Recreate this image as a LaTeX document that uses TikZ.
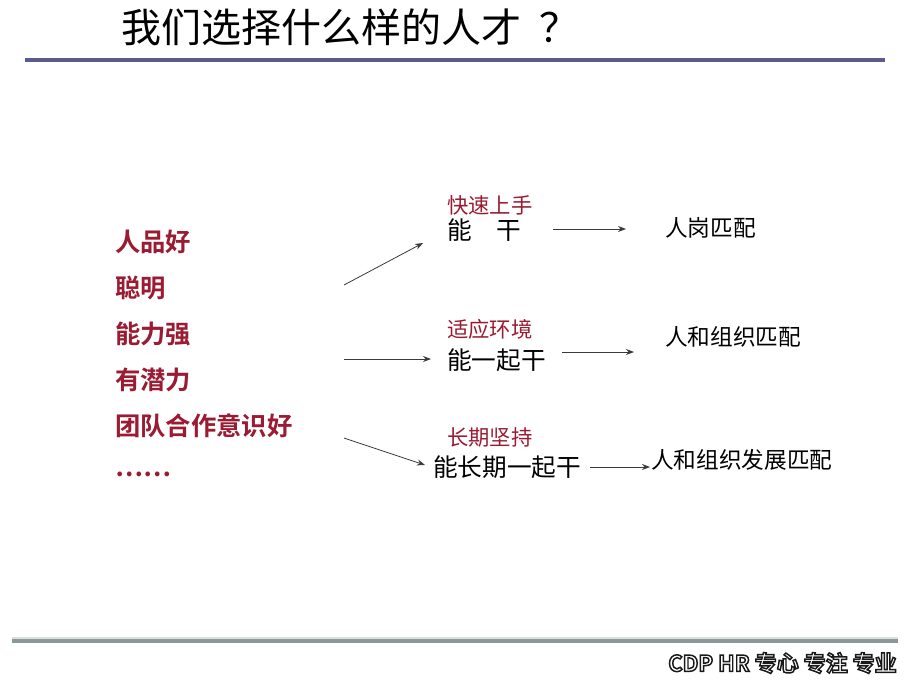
\documentclass[tikz,border=0pt]{standalone}
\usepackage{fontspec}
\setmainfont{Noto Sans CJK SC}
\newfontfamily\cjk{Noto Sans CJK SC}
\newfontfamily\cjkb{Noto Sans CJK SC Bold}
\usetikzlibrary{arrows.meta}
\definecolor{redtxt}{HTML}{9A1B32}
\definecolor{topline}{HTML}{5B5B8E}
\definecolor{botline}{HTML}{8A9898}
\definecolor{arrowc}{HTML}{3A3A3A}
\tikzset{
  lefttxt/.style={anchor=west, inner sep=0pt, text=redtxt, font=\cjkb\fontsize{19}{21}\selectfont},
  redsmall/.style={anchor=west, inner sep=0pt, text=redtxt, font=\cjk\fontsize{16}{18}\selectfont},
  blacktxt/.style={anchor=west, inner sep=0pt, text=black, font=\cjk\fontsize{18.5}{20}\selectfont},
  righttxt/.style={anchor=west, inner sep=0pt, text=black, font=\cjk\fontsize{17}{19}\selectfont},
  foot/.style={anchor=east, inner sep=0pt, font=\cjkb\fontsize{16.5}{18}\selectfont},
  arr/.style={draw=arrowc, line width=0.6pt, -{Stealth[length=6pt,width=4.5pt]}}
}
\newcommand{\outlinedtext}[1]{\special{pdf:literal direct 0.1 G 1.1 w 2 Tr}#1\special{pdf:literal direct 0 Tr}}
\begin{document}
\begin{tikzpicture}[x=0.75pt,y=-0.75pt]
\useasboundingbox (0,0) rectangle (920,690);
\fill[white] (0,0) rectangle (920,690);
% title
\node[anchor=west, inner sep=0pt, font=\cjk\fontsize{30}{32}\selectfont] (title) at (121,27) {我们选择什么样的人才\hspace{0.45em}？};
% lines
\draw[topline, line width=2.4pt] (25,60) -- (885,60);
\draw[cyan!10!gray!30, line width=2pt] (12,638) -- (898,638);
\draw[botline, line width=2.4pt] (12,641) -- (898,641);
% footer
\node[foot, text=white] (footer) at (897,663) {\outlinedtext{CDP HR 专心 专注 专业}};
% left list
\node[lefttxt] (l1) at (115,242) {人品好};
\node[lefttxt] (l2) at (115,288) {聪明};
\node[lefttxt] (l3) at (115,334) {能力强};
\node[lefttxt] (l4) at (115,380) {有潜力};
\node[lefttxt] (l5) at (115,426) {团队合作意识好};
\node[lefttxt] (l6) at (115,474) {……};
% start coordinates of left arrows
\coordinate (s1) at (344,285);
\coordinate (s2) at (344,359);
\coordinate (s3) at (344,438);
% middle
\node[redsmall] (m1r) at (447,205) {快速上手};
\node[blacktxt] (m1) at (447,230) {能\hspace{1em}干};
\node[redsmall] (m2r) at (447,329) {适应环境};
\node[blacktxt] (m2) at (447,360) {能一起干};
\node[redsmall] (m3r) at (447,437) {长期坚持};
\node[blacktxt] (m3) at (433,467) {能长期一起干};
% right
\node[righttxt] (r1) at (665,228) {人岗匹配};
\node[righttxt] (r2) at (665,337) {人和组织匹配};
\node[righttxt] (r3) at (651,460) {人和组织发展匹配};
% arrows
\draw[arr] (s1) -- (423,243) coordinate (e1);
\draw[arr] (s2) -- (431,359) coordinate (e2);
\draw[arr] (s3) -- (425,465) coordinate (e3);
\coordinate (a1) at (553,229);
\coordinate (a2) at (562,352);
\coordinate (a3) at (590,467);
\draw[arr] (a1) -- (626,229);
\draw[arr] (a2) -- (634,352);
\draw[arr] (a3) -- (650,467);
\end{tikzpicture}
\end{document}
